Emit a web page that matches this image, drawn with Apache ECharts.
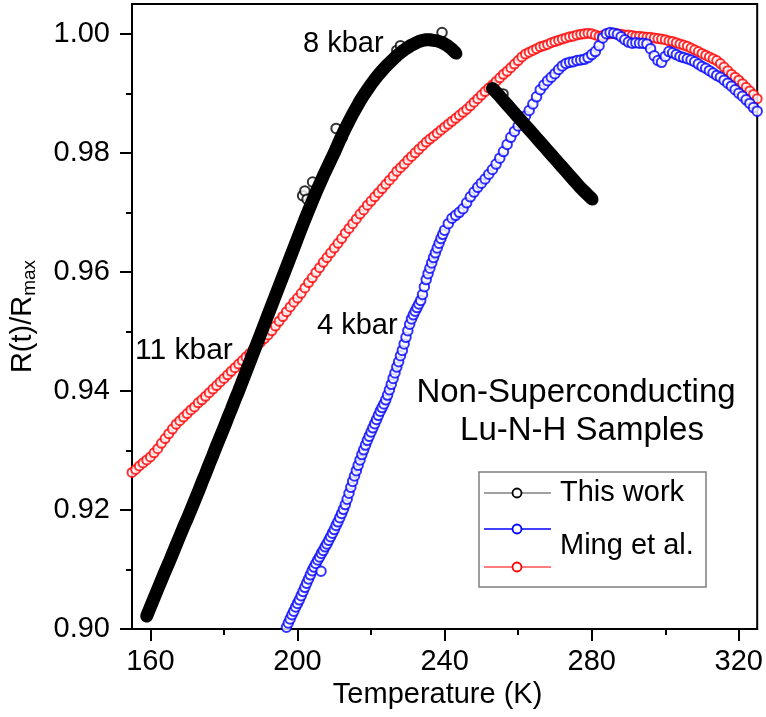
<!DOCTYPE html>
<html><head><meta charset="utf-8">
<script src="https://cdn.jsdelivr.net/npm/echarts@6/dist/echarts.min.js"></script>
<style>html,body{margin:0;padding:0;background:#fff}#c{width:766px;height:717px}</style>
</head><body><div id="c"></div>
<script>
// ---- tick labels ----
const xMajor = [160, 200, 240, 280, 320];
const xMinor = [180, 220, 260, 300];
const yMajor = [0.90, 0.92, 0.94, 0.96, 0.98, 1.00];
const yMinor = [0.91, 0.93, 0.95, 0.97, 0.99];

// ---- This work (8 kbar): dense band, cooling sweep ----
const thisWorkMain = [[159,0.9022],[160,0.9037],[161,0.9052],[162,0.9067],[163,0.9082],[164,0.9097],[165,0.9111],[166,0.9126],[167,0.9141],[168,0.9156],[169,0.9171],[170,0.9185],[171,0.9200],[172,0.9215],[173,0.9230],[174,0.9246],[175,0.9261],[176,0.9277],[177,0.9292],[178,0.9308],[179,0.9323],[180,0.9338],[181,0.9354],[182,0.9369],[183,0.9385],[184,0.9400],[185,0.9416],[186,0.9432],[187,0.9448],[188,0.9464],[189,0.9480],[190,0.9496],[191,0.9512],[192,0.9528],[193,0.9544],[194,0.9560],[195,0.9576],[196,0.9592],[197,0.9608],[198,0.9624],[199,0.9640],[200,0.9656],[201,0.9672],[202,0.9688],[203,0.9703],[204,0.9718],[205,0.9733],[206,0.9747],[207,0.9761],[208,0.9774],[209,0.9787],[210,0.9800],[211,0.9814],[212,0.9828],[213,0.9841],[214,0.9853],[215,0.9865],[216,0.9876],[217,0.9887],[218,0.9897],[219,0.9906],[220,0.9915],[221,0.9923],[222,0.9931],[223,0.9938],[224,0.9945],[225,0.9951],[226,0.9957],[227,0.9963],[228,0.9968],[229,0.9973],[230,0.9977],[231,0.9981],[232,0.9984],[233,0.9987],[234,0.9989],[235,0.9990],[236,0.9990],[237,0.9989],[238,0.9988],[239,0.9986],[240,0.9983],[241,0.9979],[242,0.9974],[243,0.9968]];
const thisWorkTail = [[253,0.9908],[254,0.9902],[255,0.9895],[256,0.9888],[257,0.9881],[258,0.9874],[259,0.9867],[260,0.9860],[261,0.9853],[262,0.9846],[263,0.9839],[264,0.9832],[265,0.9825],[266,0.9818],[267,0.9811],[268,0.9804],[269,0.9797],[270,0.9790],[271,0.9783],[272,0.9776],[273,0.9769],[274,0.9762],[275,0.9755],[276,0.9748],[277,0.9741],[278,0.9735],[279,0.9729],[280,0.9723]];
const thisWorkOpen = [[201.4,0.9728],[202.0,0.9736],[202.6,0.9722],[204.1,0.9751],[210.5,0.9841],[212.2,0.9826],[227.0,0.9972],[228.0,0.9980],[239.3,1.0002],[243.3,0.9966],[255.9,0.9899],[280.3,0.9721]];

// ---- Ming et al., 11 kbar (red) ----
const ming11 = [[155,0.9263],[156,0.9268],[157,0.9274],[158,0.9279],[159,0.9284],[160,0.9289],[161,0.9296],[162,0.9303],[163,0.9312],[164,0.9320],[165,0.9328],[166,0.9336],[167,0.9344],[168,0.9350],[169,0.9356],[170,0.9362],[171,0.9368],[172,0.9373],[173,0.9380],[174,0.9385],[175,0.9391],[176,0.9397],[177,0.9403],[178,0.9409],[179,0.9415],[180,0.9421],[181,0.9427],[182,0.9433],[183,0.9439],[184,0.9445],[185,0.9451],[186,0.9457],[187,0.9463],[188,0.9470],[189,0.9476],[190,0.9482],[191,0.9488],[192,0.9494],[193,0.9501],[194,0.9509],[195,0.9517],[196,0.9525],[197,0.9533],[198,0.9541],[199,0.9549],[200,0.9556],[201,0.9564],[202,0.9573],[203,0.9582],[204,0.9590],[205,0.9599],[206,0.9607],[207,0.9616],[208,0.9624],[209,0.9632],[210,0.9640],[211,0.9648],[212,0.9656],[213,0.9665],[214,0.9673],[215,0.9681],[216,0.9689],[217,0.9697],[218,0.9704],[219,0.9712],[220,0.9719],[221,0.9726],[222,0.9733],[223,0.9740],[224,0.9747],[225,0.9754],[226,0.9761],[227,0.9769],[228,0.9775],[229,0.9781],[230,0.9788],[231,0.9794],[232,0.9800],[233,0.9806],[234,0.9812],[235,0.9818],[236,0.9823],[237,0.9828],[238,0.9833],[239,0.9838],[240,0.9843],[241,0.9848],[242,0.9853],[243,0.9858],[244,0.9863],[245,0.9868],[246,0.9873],[247,0.9879],[248,0.9885],[249,0.9891],[250,0.9897],[251,0.9903],[252,0.9909],[253,0.9914],[254,0.9920],[255,0.9926],[256,0.9932],[257,0.9937],[258,0.9943],[259,0.9949],[260,0.9955],[261,0.9961],[262,0.9966],[263,0.9969],[264,0.9972],[265,0.9975],[266,0.9978],[267,0.9980],[268,0.9982],[269,0.9985],[270,0.9987],[271,0.9989],[272,0.9991],[273,0.9993],[274,0.9995],[275,0.9996],[276,0.9998],[277,0.9999],[278,1.0000],[279,1.0001],[280,1.0000],[281,0.9998],[282,0.9996],[283,0.9997],[284,0.9999],[285,1.0000],[286,1.0001],[287,1.0000],[288,0.9999],[289,0.9998],[290,0.9998],[291,0.9997],[292,0.9996],[293,0.9996],[294,0.9995],[295,0.9994],[296,0.9994],[297,0.9993],[298,0.9992],[299,0.9991],[300,0.9990],[301,0.9988],[302,0.9987],[303,0.9985],[304,0.9983],[305,0.9981],[306,0.9979],[307,0.9976],[308,0.9973],[309,0.9970],[310,0.9967],[311,0.9964],[312,0.9961],[313,0.9958],[314,0.9955],[315,0.9950],[316,0.9944],[317,0.9938],[318,0.9932],[319,0.9927],[320,0.9922],[321,0.9916],[322,0.9910],[323,0.9904],[324,0.9898],[325,0.9891]];

// ---- Ming et al., 4 kbar (blue) ----
const ming4 = [[197.0,0.9003],[197.5,0.9010],[198.0,0.9017],[198.5,0.9024],[199.0,0.9030],[199.5,0.9037],[200.0,0.9043],[200.5,0.9049],[201.0,0.9056],[201.5,0.9063],[202.0,0.9070],[202.5,0.9077],[203.0,0.9084],[203.5,0.9091],[204.0,0.9098],[204.5,0.9104],[205.0,0.9110],[205.5,0.9116],[206.0,0.9121],[206.4,0.9097],[206.5,0.9127],[207.0,0.9132],[207.5,0.9138],[208.0,0.9143],[208.5,0.9149],[209.0,0.9155],[209.5,0.9161],[210.0,0.9167],[210.5,0.9174],[211.0,0.9180],[211.5,0.9187],[212.0,0.9194],[212.5,0.9201],[213.0,0.9209],[213.5,0.9218],[214.0,0.9228],[214.5,0.9238],[215.0,0.9248],[215.5,0.9257],[216.0,0.9266],[216.5,0.9275],[217.0,0.9284],[217.5,0.9293],[218.0,0.9301],[218.5,0.9309],[219.0,0.9317],[219.5,0.9324],[220.0,0.9331],[220.5,0.9338],[221.0,0.9345],[221.5,0.9352],[222.0,0.9359],[222.5,0.9366],[223.0,0.9372],[223.5,0.9378],[224.0,0.9385],[224.5,0.9393],[225.0,0.9402],[225.5,0.9411],[226.0,0.9421],[226.5,0.9430],[227.0,0.9440],[227.5,0.9449],[228.0,0.9459],[228.5,0.9468],[229.0,0.9479],[229.5,0.9490],[230.0,0.9501],[230.5,0.9512],[231.0,0.9521],[231.5,0.9528],[232.0,0.9534],[232.5,0.9540],[233.0,0.9546],[233.5,0.9552],[234.0,0.9562],[234.5,0.9575],[235.0,0.9587],[235.5,0.9597],[236.0,0.9606],[236.5,0.9615],[237.0,0.9624],[237.5,0.9632],[238.0,0.9640],[238.5,0.9648],[239.0,0.9656],[239.5,0.9663],[240.0,0.9670],[241,0.9681],[242,0.9690],[243,0.9695],[244,0.9700],[245,0.9706],[246,0.9716],[247,0.9726],[248,0.9734],[249,0.9742],[250,0.9749],[251,0.9756],[252,0.9764],[253,0.9772],[254,0.9781],[255,0.9791],[256,0.9802],[257,0.9814],[258,0.9826],[259,0.9836],[260,0.9845],[261,0.9854],[262,0.9862],[263,0.9871],[264,0.9882],[265,0.9894],[266,0.9906],[267,0.9914],[268,0.9921],[269,0.9927],[270,0.9933],[271,0.9940],[272,0.9946],[273,0.9950],[274,0.9952],[275,0.9953],[276,0.9955],[277,0.9956],[278,0.9957],[279,0.9960],[280,0.9965],[281,0.9970],[282,0.9980],[283,0.9993],[284,1.0000],[285,1.0002],[286,1.0001],[287,0.9999],[288,0.9995],[289,0.9990],[290,0.9986],[291,0.9984],[292,0.9985],[293,0.9984],[294,0.9984],[295,0.9983],[296,0.9975],[297,0.9963],[298,0.9955],[299,0.9952],[300,0.9962],[301,0.9970],[302,0.9968],[303,0.9965],[304,0.9962],[305,0.9960],[306,0.9958],[307,0.9956],[308,0.9953],[309,0.9949],[310,0.9945],[311,0.9942],[312,0.9938],[313,0.9934],[314,0.9930],[315,0.9927],[316,0.9922],[317,0.9917],[318,0.9912],[319,0.9906],[320,0.9900],[321,0.9895],[322,0.9889],[323,0.9883],[324,0.9876],[325,0.9870]];

const FONT = '"Liberation Sans", Arial, sans-serif';
const chart = echarts.init(document.getElementById('c'));

const axisCommonX = {type:'value', min:155, max:325, position:'bottom', splitLine:{show:false}};
const axisCommonY = {type:'value', min:0.9, max:1.005, position:'left', splitLine:{show:false}};

const option = {
  animation: false,
  backgroundColor: '#fff',
  grid: {left:132, right:7, top:4, bottom:88, show:true, borderColor:'#000', borderWidth:2, backgroundColor:'transparent'},
  xAxis: [
    Object.assign({}, axisCommonX, {
      axisLine:{show:true, onZero:false, lineStyle:{color:'#000', width:2}},
      axisTick:{show:true, inside:false, length:12, customValues:xMajor, lineStyle:{color:'#000', width:2}},
      axisLabel:{show:true, customValues:xMajor, fontSize:29, color:'#000', fontFamily:FONT, margin:18},
      name:'Temperature (K)', nameLocation:'middle', nameGap:47,
      nameTextStyle:{fontSize:29, color:'#000', fontFamily:FONT, padding:[0,14,0,0]}
    }),
    Object.assign({}, axisCommonX, {
      axisLine:{show:false},
      axisTick:{show:true, inside:false, length:6, customValues:xMinor, lineStyle:{color:'#000', width:2}},
      axisLabel:{show:false}
    })
  ],
  yAxis: [
    Object.assign({}, axisCommonY, {
      axisLine:{show:true, onZero:false, lineStyle:{color:'#000', width:2}},
      axisTick:{show:true, inside:false, length:12, customValues:yMajor, lineStyle:{color:'#000', width:2}},
      axisLabel:{show:true, customValues:yMajor, fontSize:29, color:'#000', fontFamily:FONT, margin:22,
        formatter: v => Number(v).toFixed(2)},
      name:'{a|R(t)/R}{b|max}', nameLocation:'middle', nameGap:93, nameRotate:90,
      nameTextStyle:{color:'#000', fontFamily:FONT,
        rich:{a:{fontSize:29, color:'#000', fontFamily:FONT},
              b:{fontSize:19, color:'#000', fontFamily:FONT, padding:[14,0,0,0]}}}
    }),
    Object.assign({}, axisCommonY, {
      axisLine:{show:false},
      axisTick:{show:true, inside:false, length:6, customValues:yMinor, lineStyle:{color:'#000', width:2}},
      axisLabel:{show:false}
    })
  ],
  series: [
    {name:'Ming et al. (11 kbar)', type:'scatter', data:ming11, symbol:'emptyCircle', symbolSize:9,
     itemStyle:{color:'#ff0000', borderColor:'#ff0000', borderWidth:1.6}, silent:true},
    {name:'Ming et al. (4 kbar)', type:'scatter', data:ming4, symbol:'emptyCircle', symbolSize:9.5,
     itemStyle:{color:'#0000ff', borderColor:'#0000ff', borderWidth:1.6}, silent:true},
    {name:'This work', type:'line', data:thisWorkMain, symbol:'none', smooth:false,
     lineStyle:{color:'#000', width:13, cap:'round', join:'round'}, silent:true},
    {name:'This work', type:'line', data:thisWorkTail, symbol:'none', smooth:false,
     lineStyle:{color:'#000', width:13, cap:'round', join:'round'}, silent:true},
    {name:'This work', type:'scatter', data:thisWorkOpen, symbol:'emptyCircle', symbolSize:9.5,
     itemStyle:{color:'#000', borderColor:'#000', borderWidth:1.7}, silent:true}
  ],
  graphic: [
    {type:'text', x:303, y:44, style:{text:'8 kbar', font:'29px ' + FONT, fill:'#000', verticalAlign:'middle'}},
    {type:'text', x:135, y:351, style:{text:'11 kbar', font:'30px ' + FONT, fill:'#000', verticalAlign:'middle'}},
    {type:'text', x:317, y:326, style:{text:'4 kbar', font:'29px ' + FONT, fill:'#000', verticalAlign:'middle'}},
    {type:'text', x:576, y:393, style:{text:'Non-Superconducting', font:'33px ' + FONT, fill:'#000', align:'center', verticalAlign:'middle'}},
    {type:'text', x:582, y:431, style:{text:'Lu-N-H Samples', font:'33px ' + FONT, fill:'#000', align:'center', verticalAlign:'middle'}},
    // legend
    {type:'rect', shape:{x:479, y:472, width:227, height:115}, style:{fill:'#fff', stroke:'#7f7f7f', lineWidth:1.5}},
    {type:'line', shape:{x1:484, y1:493, x2:551, y2:493}, style:{stroke:'#808080', lineWidth:1.5}},
    {type:'circle', shape:{cx:517, cy:493, r:4.5}, style:{fill:'#fff', stroke:'#000', lineWidth:1.8}},
    {type:'line', shape:{x1:484, y1:529, x2:551, y2:529}, style:{stroke:'#0000ff', lineWidth:1.5}},
    {type:'circle', shape:{cx:517, cy:529, r:4.5}, style:{fill:'#fff', stroke:'#0000ff', lineWidth:1.8}},
    {type:'line', shape:{x1:484, y1:567, x2:551, y2:567}, style:{stroke:'#ff5050', lineWidth:1.5}},
    {type:'circle', shape:{cx:517, cy:567, r:4.5}, style:{fill:'#fff', stroke:'#ff0000', lineWidth:1.8}},
    {type:'text', x:560, y:493, style:{text:'This work', font:'29px ' + FONT, fill:'#000', verticalAlign:'middle'}},
    {type:'text', x:560, y:546, style:{text:'Ming et al.', font:'29px ' + FONT, fill:'#000', verticalAlign:'middle'}}
  ]
};
chart.setOption(option);
</script>
</body></html>
